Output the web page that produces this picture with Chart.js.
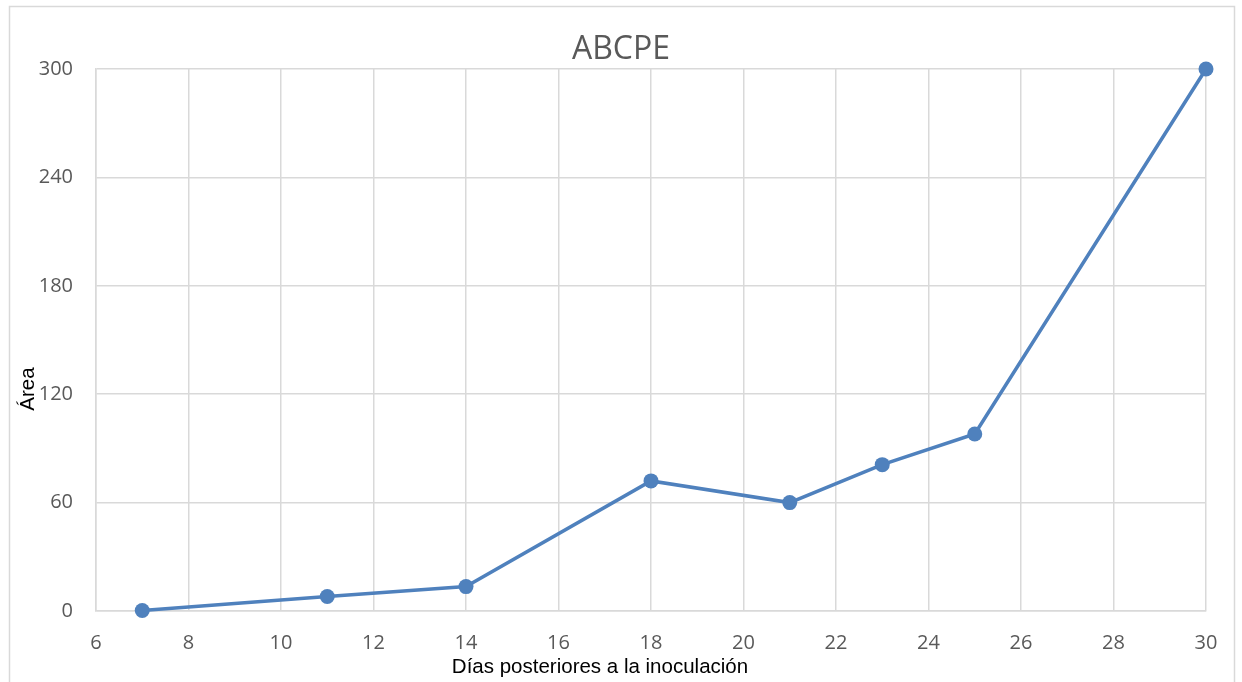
<!DOCTYPE html>
<html>
<head>
<meta charset="utf-8">
<script src="https://cdn.jsdelivr.net/npm/chart.js@4"></script>
<style>
  body { margin: 0; background: #fff; }
  #wrap { width: 1242px; height: 682px; position: relative; }
</style>
</head>
<body>
<div id="wrap"><canvas id="myChart"></canvas></div>
<script>
const dias = [7, 11, 14, 18, 21, 23, 25, 30];
const area = [0.3, 8, 13.5, 72, 60, 81, 98, 300];
const chartTitle = 'ABCPE';
const xTitle = 'Días posteriores a la inoculación';
const yTitle = 'Área';

const points = dias.map((d, i) => ({x: d, y: area[i]}));

// frame + titles drawn by hand, Excel puts them off-centre
const extras = {
    id: 'extras',
    beforeDraw(chart) {
        const c = chart.ctx;
        c.save();
        c.strokeStyle = '#d9d9d9';
        c.lineWidth = 1.5;
        c.strokeRect(9.5, 6.5, 1225, 700);
        c.restore();
    },
    afterDraw(chart) {
        const c = chart.ctx;
        c.save();
        c.textAlign = 'center';
        c.textBaseline = 'middle';
        c.fillStyle = '#595959';
        c.font = '32px "Open Sans", sans-serif';
        c.fillText(chartTitle, 621, 50);
        c.fillStyle = '#000';
        c.font = '20.5px "Liberation Sans", Arial, sans-serif';
        c.fillText(xTitle, 600, 667);
        c.translate(28, 389);
        c.rotate(-Math.PI / 2);
        c.fillText(yTitle, 0, 0);
        c.restore();
    }
};

const ctx = document.getElementById('myChart').getContext('2d');
const chart = new Chart(ctx, {
    type: 'line',
    data: {
        datasets: [{
            data: points,
            borderColor: '#4f81bd',
            backgroundColor: '#4f81bd',
            borderWidth: 3.5,
            pointRadius: 7.5,
            pointHoverRadius: 7.5,
            pointBorderWidth: 0,
            tension: 0,
            clip: false
        }]
    },
    options: {
        responsive: true,
        maintainAspectRatio: false,
        animation: false,
        layout: {padding: {left: 0, right: 36, top: 69, bottom: 0}},
        plugins: {
            legend: {display: false},
            tooltip: {enabled: false},
            title: {display: false}
        },
        scales: {
            x: {
                type: 'linear',
                min: 6, max: 30,
                ticks: {
                    stepSize: 2,
                    color: '#595959',
                    padding: 20,
                    font: {family: '"Open Sans", sans-serif', size: 20}
                },
                grid: {color: '#d9d9d9', lineWidth: 1.5, drawTicks: false},
                border: {color: '#d9d9d9', width: 1.5},
                afterFit(s) { s.height = 71; }
            },
            y: {
                min: 0, max: 300,
                ticks: {
                    stepSize: 60,
                    color: '#595959',
                    padding: 23,
                    font: {family: '"Open Sans", sans-serif', size: 20}
                },
                grid: {color: '#d9d9d9', lineWidth: 1.5, drawTicks: false},
                border: {color: '#d9d9d9', width: 1.5},
                afterFit(s) { s.width = 96; }
            }
        }
    },
    plugins: [extras]
});
</script>
</body>
</html>
